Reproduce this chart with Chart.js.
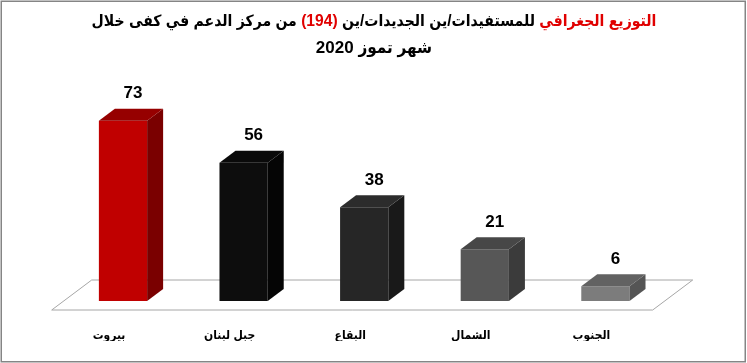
<!DOCTYPE html>
<html>
<head>
<meta charset="utf-8">
<script src="https://cdn.jsdelivr.net/npm/chart.js@4"></script>
<style>
  html, body { margin: 0; padding: 0; background: #fff; }
  canvas { display: block; }
</style>
</head>
<body>
<canvas id="geo-chart" width="747" height="363"></canvas>
<script>
// Data
const regions = ['بيروت', 'جبل لبنان', 'البقاع', 'الشمال', 'الجنوب'];
const counts = [73, 56, 38, 21, 6];
const frontColors = ['#C00000', '#0D0D0D', '#262626', '#575757', '#7C7C7C'];
const sideColors = ['#7A0000', '#050505', '#191919', '#3B3B3B', '#555555'];
const topColors = ['#960000', '#0A0A0A', '#2C2C2C', '#474747', '#626262'];

const titleLine1 = [
    { text: 'التوزيع الجغرافي', color: '#E00000' },
    { text: ' للمستفيدات/ين الجديدات/ين ', color: '#000' },
    { text: '(194)', color: '#E00000', ltr: true },
    { text: ' من مركز الدعم في كفى خلال', color: '#000' }
];
const titleLine2 = 'شهر تموز 2020';

const DX = 16, DY = 12; // depth of the bars
const FONT = '"Liberation Sans", "DejaVu Sans Condensed", "DejaVu Sans", sans-serif';

// Floor under the bars
const floorPlugin = {
    id: 'floor',
    beforeDatasetsDraw(chart) {
        const { ctx, scales: { x, y } } = chart;
        const zero = y.getPixelForValue(0);
        const fy = zero + 9, by = zero - 21;
        const fl = x.left - 11, fr = x.right - 13;
        ctx.save();
        ctx.strokeStyle = '#A6A6A6';
        ctx.lineWidth = 1;
        ctx.beginPath();
        ctx.moveTo(fl, fy);
        ctx.lineTo(fl + 40, by);
        ctx.lineTo(fr + 40, by);
        ctx.lineTo(fr, fy);
        ctx.closePath();
        ctx.stroke();
        ctx.restore();
    }
};

// Side/top faces and value labels
const bar3dPlugin = {
    id: 'bar3d',
    afterDatasetsDraw(chart) {
        const { ctx } = chart;
        const meta = chart.getDatasetMeta(0);
        ctx.save();
        meta.data.forEach((bar, i) => {
            const l = bar.x - bar.width / 2, r = bar.x + bar.width / 2;
            ctx.fillStyle = sideColors[i];
            ctx.beginPath();
            ctx.moveTo(r, bar.y);
            ctx.lineTo(r + DX, bar.y - DY);
            ctx.lineTo(r + DX, bar.base - DY);
            ctx.lineTo(r, bar.base);
            ctx.closePath();
            ctx.fill();

            ctx.fillStyle = topColors[i];
            ctx.beginPath();
            ctx.moveTo(l, bar.y);
            ctx.lineTo(l + DX, bar.y - DY);
            ctx.lineTo(r + DX, bar.y - DY);
            ctx.lineTo(r, bar.y);
            ctx.closePath();
            ctx.fill();

            ctx.fillStyle = '#000';
            ctx.font = 'bold 17px ' + FONT;
            ctx.textAlign = 'center';
            ctx.textBaseline = 'middle';
            ctx.fillText(String(counts[i]), bar.x + DX / 2 + 2, bar.y - 27);
        });
        ctx.restore();
    }
};

// Two-colour title and frame
const titlePlugin = {
    id: 'customTitle',
    afterDraw(chart) {
        const { ctx, width, height } = chart;
        ctx.save();
        ctx.textBaseline = 'middle';
        // fit first line to the width it has in the original
        ctx.font = 'bold 17px ' + FONT;
        let total = 0;
        titleLine1.forEach(s => {
            ctx.direction = s.ltr ? 'ltr' : 'rtl';
            total += ctx.measureText(s.text).width;
        });
        const size = Math.min(18, 17 * 565 / total);
        ctx.font = 'bold ' + size + 'px ' + FONT;
        const widths = titleLine1.map(s => {
            ctx.direction = s.ltr ? 'ltr' : 'rtl';
            return ctx.measureText(s.text).width;
        });
        total = widths.reduce((a, b) => a + b, 0);
        let xr = 374 + total / 2;
        titleLine1.forEach((s, i) => {
            ctx.direction = s.ltr ? 'ltr' : 'rtl';
            ctx.textAlign = 'right';
            ctx.fillStyle = s.color;
            ctx.fillText(s.text, xr, 22);
            xr -= widths[i];
        });
        ctx.font = 'bold 17px ' + FONT;
        ctx.direction = 'rtl';
        ctx.textAlign = 'center';
        ctx.fillStyle = '#000';
        ctx.fillText(titleLine2, 374, 48);

        ctx.strokeStyle = '#858585';
        ctx.lineWidth = 1.5;
        ctx.strokeRect(1.25, 1.25, width - 3, height - 2.5);
        ctx.restore();
    }
};

new Chart(document.getElementById('geo-chart'), {
    type: 'bar',
    data: {
        labels: regions,
        datasets: [{
            data: counts,
            backgroundColor: frontColors,
            borderWidth: 0,
            categoryPercentage: 1,
            barPercentage: 0.4
        }]
    },
    options: {
        responsive: false,
        animation: false,
        layout: {
            padding: { top: 103.4, left: 62.7, right: 81.3, bottom: 22 }
        },
        plugins: {
            legend: { display: false },
            title: { display: false },
            tooltip: { enabled: false }
        },
        scales: {
            x: {
                grid: { display: false, drawTicks: false },
                border: { display: false },
                afterFit(scale) { scale.height = 40; },
                ticks: {
                    color: '#000',
                    font: { family: FONT, size: 12, weight: 'bold' },
                    padding: 27,
                    labelOffset: -14,
                    maxRotation: 0
                }
            },
            y: {
                display: false,
                min: 0,
                max: 80
            }
        }
    },
    plugins: [floorPlugin, bar3dPlugin, titlePlugin]
});
</script>
</body>
</html>
